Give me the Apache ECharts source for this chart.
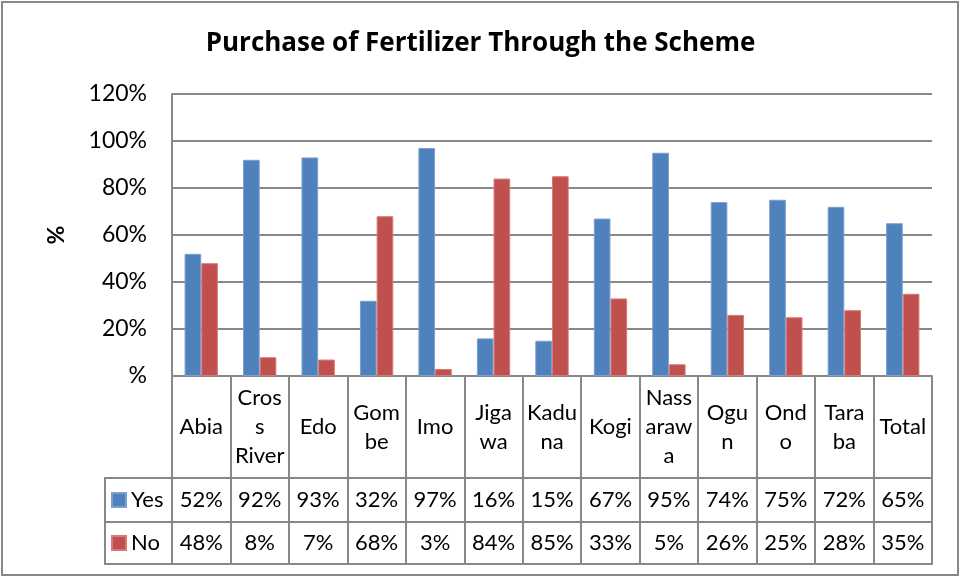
<!DOCTYPE html>
<html>
<head>
<meta charset="utf-8">
<script src="https://cdn.jsdelivr.net/npm/echarts@6/dist/echarts.min.js"></script>
<style>
  html, body { margin: 0; padding: 0; background: #fff; }
  #chart-container { width: 961px; height: 577px; }
</style>
</head>
<body>
<div id="chart-container"></div>
<script>
// data
var categories = ['Abia', 'Cros\ns\nRiver', 'Edo', 'Gom\nbe', 'Imo', 'Jiga\nwa', 'Kadu\nna',
  'Kogi', 'Nass\naraw\na', 'Ogu\nn', 'Ond\no', 'Tara\nba', 'Total'];
var yesValues = [52, 92, 93, 32, 97, 16, 15, 67, 95, 74, 75, 72, 65];
var noValues = [48, 8, 7, 68, 3, 84, 85, 33, 5, 26, 25, 28, 35];
var yTicks = [0, 20, 40, 60, 80, 100, 120];

var gray = '#888888';
var font = 'Lato, "Open Sans", sans-serif';

var dom = document.getElementById('chart-container');
var myChart = echarts.init(dom, null, { renderer: 'canvas' });

function pct(v) { return v + '%'; }

function legendFor(name, top) {
  return {
    data: [name],
    left: 111,
    top: top,
    icon: 'rect',
    itemWidth: 14,
    itemHeight: 14,
    itemGap: 0,
    padding: 0,
    textStyle: { fontFamily: font, fontSize: 22, color: '#000', lineHeight: 22 }
  };
}

var option = {
  animation: false,
  textStyle: { fontFamily: font, color: '#000' },
  title: {
    text: 'Purchase of Fertilizer Through the Scheme',
    left: 'center',
    top: 26,
    textStyle: { fontFamily: '"Open Sans", sans-serif', fontSize: 26, fontWeight: 'bold', color: '#000' }
  },
  legend: [legendFor('Yes', 489), legendFor('No', 532)],
  grid: { left: 172, right: 29, top: 94, bottom: 201 },
  xAxis: [
    {
      type: 'category',
      data: categories,
      position: 'bottom',
      axisLine: { show: true, lineStyle: { color: gray, width: 2 } },
      axisTick: { show: true, interval: 0, length: 188, lineStyle: { color: gray, width: 2 } },
      axisLabel: {
        interval: 0, margin: 51, verticalAlign: 'middle',
        fontSize: 22, lineHeight: 29, color: '#000', fontFamily: font
      }
    },
    {
      type: 'category',
      data: yesValues.map(pct),
      position: 'bottom',
      offset: 102,
      axisLine: { show: true, lineStyle: { color: gray, width: 2 } },
      axisTick: { show: false },
      axisLabel: { interval: 0, margin: 22, verticalAlign: 'middle', fontSize: 22, color: '#000', fontFamily: font }
    },
    {
      type: 'category',
      data: noValues.map(pct),
      position: 'bottom',
      offset: 146,
      axisLine: { show: true, lineStyle: { color: gray, width: 2 } },
      axisTick: { show: false },
      axisLabel: { interval: 0, margin: 21, verticalAlign: 'middle', fontSize: 22, color: '#000', fontFamily: font }
    },
    {
      type: 'category',
      data: categories,
      position: 'bottom',
      offset: 188,
      axisLine: { show: true, lineStyle: { color: gray, width: 2 } },
      axisTick: { show: false },
      axisLabel: { show: false }
    }
  ],
  yAxis: {
    type: 'value',
    min: yTicks[0],
    max: yTicks[yTicks.length - 1],
    interval: 20,
    name: '%',
    nameLocation: 'middle',
    nameRotate: 90,
    nameGap: 104,
    nameTextStyle: { fontFamily: font, fontSize: 23, fontWeight: 'bold', color: '#000' },
    axisLine: { show: true, lineStyle: { color: gray, width: 2 } },
    axisTick: { show: false },
    axisLabel: {
      margin: 25, fontSize: 23, color: '#000', fontFamily: font,
      formatter: function (v) { return v === 0 ? '%' : v + '%'; }
    },
    splitLine: { show: true, lineStyle: { color: gray, width: 2 } }
  },
  series: [
    {
      name: 'Yes',
      type: 'bar',
      data: yesValues,
      barGap: '0%',
      barCategoryGap: '43%',
      itemStyle: { color: '#4F81BD', borderColor: '#7aa0d0', borderWidth: 1 }
    },
    {
      name: 'No',
      type: 'bar',
      data: noValues,
      itemStyle: { color: '#C0504D', borderColor: '#d57a78', borderWidth: 1 }
    }
  ],
  graphic: [
    { type: 'rect', shape: { x: 2, y: 2, width: 956, height: 573 }, style: { fill: 'none', stroke: gray, lineWidth: 2 } },
    { type: 'line', shape: { x1: 105, y1: 478, x2: 172, y2: 478 }, style: { stroke: gray, lineWidth: 2 } },
    { type: 'line', shape: { x1: 105, y1: 522, x2: 172, y2: 522 }, style: { stroke: gray, lineWidth: 2 } },
    { type: 'line', shape: { x1: 105, y1: 564, x2: 172, y2: 564 }, style: { stroke: gray, lineWidth: 2 } },
    { type: 'line', shape: { x1: 105, y1: 477, x2: 105, y2: 565 }, style: { stroke: gray, lineWidth: 2 } }
  ]
};

myChart.setOption(option);
window.addEventListener('resize', myChart.resize);
</script>
</body>
</html>
